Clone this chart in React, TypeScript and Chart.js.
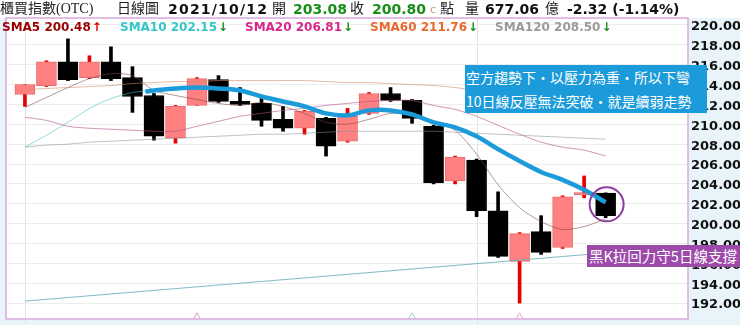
import React, { useEffect, useRef } from "react";
import { Chart, registerables } from "chart.js";
Chart.register(...registerables);

// ---------- data ----------
const dates = ["09/01","09/02","09/03","09/06","09/07","09/08","09/09","09/10","09/11","09/13","09/14","09/15","09/16","09/17","09/22","09/23","09/24","09/27","09/28","09/29","09/30","10/01","10/04","10/05","10/06","10/07","10/08","10/12"];
const opens  = [213.0,213.9,216.3,214.7,216.3,214.7,212.9,208.6,211.9,214.5,212.3,212.1,210.5,209.6,210.6,208.3,211.1,213.1,212.4,209.8,204.3,206.4,201.3,196.2,199.2,197.6,202.9,203.08];
const highs  = [214.0,216.4,218.6,216.9,217.8,215.8,213.1,211.9,214.7,214.9,213.7,212.7,211.8,211.4,210.7,211.6,213.2,213.7,212.5,209.9,206.8,206.5,203.2,199.1,200.8,202.8,204.8,203.1];
const lows   = [211.8,213.8,214.4,214.6,214.4,211.2,208.4,208.1,211.9,212.2,211.9,209.8,209.3,209.0,206.8,208.2,211.0,212.3,210.1,204.0,204.0,200.7,196.6,192.0,196.9,197.5,202.6,200.6];
const closes = [214.0,216.3,214.5,216.3,214.6,212.8,208.8,211.8,214.6,212.3,212.0,210.4,209.6,211.3,207.8,210.8,213.1,212.4,210.6,204.1,206.7,201.3,196.7,199.0,197.1,202.7,203.12,200.80];
const volume = 677.06;

const sma5   = [211.7,212.7,213.7,214.6,215.1,214.9,213.4,212.9,212.5,212.1,211.9,212.2,211.8,211.1,210.2,210.0,210.5,211.1,210.9,210.2,209.4,207.0,203.9,201.6,200.2,199.4,199.7,200.48];
const sma10  = [207.7,208.9,210.2,211.6,212.6,213.2,213.4,213.6,213.7,213.6,213.4,212.8,212.3,211.8,211.1,210.9,211.4,211.4,211.0,210.2,209.7,208.8,207.5,206.3,205.2,204.4,203.4,202.15];
const sma20  = [210.7,210.4,209.8,209.6,209.5,209.4,209.3,209.3,209.8,210.3,210.8,211.1,211.4,211.6,211.9,212.1,212.3,212.4,212.4,211.9,211.5,210.8,209.9,209.0,208.2,207.7,207.4,206.81];
const sma60  = [213.5,213.6,213.7,213.8,213.9,214.1,214.2,214.3,214.3,214.4,214.4,214.4,214.4,214.4,214.3,214.2,214.2,214.1,214.0,213.9,213.7,213.4,213.1,212.8,212.5,212.2,212.0,211.76];
const sma120 = [207.7,207.9,208.0,208.2,208.3,208.4,208.5,208.6,208.7,208.8,208.9,209.0,209.0,209.1,209.2,209.3,209.3,209.3,209.3,209.3,209.2,209.1,209.0,208.9,208.8,208.7,208.6,208.50];
const longLineIdx = [0, 27];
const longLineVals = [192.2, 197.05];
const highlightStart = { x: 5.6, y: 213.3 };
const highlightFrom = 6;
const markerIdx = [8, 18, 23];
const yTicks = [192,194,196,198,200,202,204,206,208,210,212,214,216,218,220];

// ---------- layout / style ----------
const X_MIN = -0.88, X_MAX = 30.83, Y_MIN = 190.4, Y_MAX = 220.7;
const UP_BODY = "#ff8080", UP_EDGE = "#e86a6a", UP_WICK = "#e60000";
const last = closes.length - 1;
const monthStarts = dates.map((d, i) => (i === 0 || d.slice(0, 2) !== dates[i - 1].slice(0, 2) ? i : -1)).filter((i) => i >= 0);
const isUp = (i: number) => closes[i] >= opens[i];
const pts = (arr: number[]) => arr.map((v, i) => ({ x: i, y: v }));

const framePlugin = {
  id: "frame",
  beforeDraw(chart: any) {
    const { ctx, chartArea: a, width, height } = chart;
    ctx.save();
    ctx.fillStyle = "#e8f4f9";
    ctx.fillRect(0, 0, width, height);
    ctx.fillStyle = "#ffffff";
    ctx.fillRect(0, 0, width, a.top);
    ctx.fillRect(a.left, a.top, a.right - a.left, a.bottom - a.top);
    ctx.restore();
  },
  beforeDatasetsDraw(chart: any) {
    const { ctx, chartArea: a, height } = chart;
    ctx.save();
    ctx.strokeStyle = "#dbe5ea";
    ctx.lineWidth = 1;
    monthStarts.forEach((i) => {
      const x = Math.round(chart.scales.x.getPixelForValue(i)) + 0.5;
      ctx.beginPath();
      ctx.moveTo(x, a.top);
      ctx.lineTo(x, height);
      ctx.stroke();
    });
    ctx.restore();
  },
  afterDraw(chart: any) {
    const { ctx, chartArea: a } = chart;
    ctx.save();
    ctx.strokeStyle = "#dba8de";
    ctx.lineWidth = 1.5;
    ctx.strokeRect(a.left, a.top, a.right - a.left, a.bottom - a.top);
    const cx = chart.scales.x.getPixelForValue(last);
    const cy = chart.scales.y.getPixelForValue((opens[last] + closes[last]) / 2);
    ctx.beginPath();
    ctx.arc(cx + 1, cy, 17, 0, Math.PI * 2);
    ctx.strokeStyle = "#8e3c9e";
    ctx.lineWidth = 2;
    ctx.stroke();
    ctx.restore();
  },
};

const thin = (label: string, data: any[], color: string) => ({
  type: "line" as const,
  label,
  data,
  borderColor: color,
  borderWidth: 1,
  pointRadius: 0,
  tension: 0.25,
  order: 0,
});

export default function App() {
  const ref = useRef<HTMLCanvasElement>(null);
  useEffect(() => {
    if (!ref.current) return;
    const chart = new Chart(ref.current, {
      type: "bar",
      data: {
        datasets: [
          thin("SMA120", pts(sma120), "rgba(140,140,140,0.55)"),
          thin("SMA60", pts(sma60), "rgba(205,140,100,0.6)"),
          thin("SMA20", pts(sma20), "rgba(180,80,140,0.6)"),
          thin("SMA10", pts(sma10), "rgba(70,195,190,0.6)"),
          thin("SMA5", pts(sma5), "rgba(120,70,60,0.55)"),
          thin("long", longLineIdx.map((x, k) => ({ x, y: longLineVals[k] })), "rgba(110,170,190,0.85)"),
          {
            type: "line",
            label: "10日線",
            data: [highlightStart, ...sma10.slice(highlightFrom).map((v, k) => ({ x: k + highlightFrom, y: v }))],
            borderColor: "#1b9bd9",
            borderWidth: 4.5,
            pointRadius: 0,
            tension: 0.35,
            order: -1,
          } as any,
          {
            type: "line",
            label: "marks",
            data: markerIdx.map((x) => ({ x, y: Y_MIN + 0.12 })),
            showLine: false,
            pointStyle: "triangle",
            pointRadius: 5,
            pointBorderWidth: 1,
            pointBackgroundColor: "#ffffff",
            pointBorderColor: ["#e3a0c0", "#9fd6c8", "#d6a8b8"],
            clip: 0,
            order: 0,
          } as any,
          {
            type: "bar",
            label: "body",
            data: opens.map((o, i) => ({ x: i, y: [o, closes[i]] })),
            backgroundColor: opens.map((_, i) => (isUp(i) ? UP_BODY : "#000000")),
            borderColor: opens.map((_, i) => (isUp(i) ? UP_EDGE : "#000000")),
            borderWidth: 1,
            borderSkipped: false,
            barThickness: 20,
            minBarLength: 2,
            grouped: false,
            order: 1,
          } as any,
          {
            type: "bar",
            label: "wick",
            data: lows.map((l, i) => ({ x: i, y: [l, highs[i]] })),
            backgroundColor: lows.map((_, i) => (isUp(i) ? UP_WICK : "#000000")),
            borderWidth: 0,
            barThickness: 3,
            grouped: false,
            order: 2,
          } as any,
        ],
      },
      options: {
        animation: false,
        responsive: false,
        devicePixelRatio: 1,
        layout: { padding: { left: 3, top: 18, right: 0, bottom: 4 } },
        plugins: { legend: { display: false }, tooltip: { enabled: false } },
        scales: {
          x: {
            type: "linear",
            display: false,
            min: X_MIN,
            max: X_MAX,
            offset: false,
          },
          y: {
            type: "linear",
            position: "right",
            min: Y_MIN,
            max: Y_MAX,
            afterBuildTicks: (s: any) => { s.ticks = yTicks.map((v) => ({ value: v })); },
            afterFit: (s: any) => { s.width = 52; s.paddingTop = 0; s.paddingBottom = 0; },
            ticks: {
              callback: (v: any) => Number(v).toFixed(2),
              font: { family: "DejaVu Sans", weight: "bold", size: 13 },
              color: "#111111",
              padding: 3,
              labelOffset: 2,
            },
            grid: { color: "#ededed", drawTicks: false },
            border: { display: false },
          },
        },
      } as any,
      plugins: [framePlugin],
    });
    return () => chart.destroy();
  }, []);

  const chg = closes[last] - closes[last - 1];
  const pct = (chg / closes[last - 1]) * 100;
  const sign = (n: number) => (n > 0 ? "+" : "") + n.toFixed(2);
  const num: React.CSSProperties = { fontFamily: "'DejaVu Sans', sans-serif", fontWeight: "bold", fontSize: 14 };
  const cjk: React.CSSProperties = { fontFamily: "'Liberation Serif', 'Noto Sans CJK TC', serif", fontSize: 14, color: "#222" };
  const at = (left: number, style: React.CSSProperties, text: string, extra: React.CSSProperties = {}) => (
    <span style={{ position: "absolute", left, top: 0, lineHeight: "18px", whiteSpace: "nowrap", ...style, ...extra }}>{text}</span>
  );
  const smaItems = [
    { name: "SMA5", arr: sma5, color: "#990000", left: 2 },
    { name: "SMA10", arr: sma10, color: "#33c6c8", left: 120 },
    { name: "SMA20", arr: sma20, color: "#d9268a", left: 245 },
    { name: "SMA60", arr: sma60, color: "#e8692e", left: 370 },
    { name: "SMA120", arr: sma120, color: "#9a9a9a", left: 495 },
  ];

  return (
    <div style={{ position: "fixed", left: 0, top: 0, width: 740, height: 325, overflow: "hidden" }}>
      <canvas ref={ref} width={740} height={325} style={{ position: "absolute", left: 0, top: 0 }} />
      {at(0, cjk, "櫃買指數(OTC)")}
      {at(117, cjk, "日線圖")}
      {at(168, num, "2021/10/12", { letterSpacing: 1.2, color: "#111" })}
      {at(272, cjk, "開")}
      {at(293, num, opens[last].toFixed(2), { color: "#178f17" })}
      {at(350, cjk, "收")}
      {at(372, num, closes[last].toFixed(2), { color: "#178f17" })}
      {at(430, { fontFamily: "'DejaVu Sans', sans-serif", fontSize: 11, color: "#c4a46c" }, "c", { top: 1 })}
      {at(440, cjk, "點")}
      {at(465, cjk, "量")}
      {at(485, num, volume.toFixed(2), { color: "#111" })}
      {at(545, cjk, "億")}
      {at(567, num, `${sign(chg)} (${sign(pct)}%)`, { color: "#111" })}
      {smaItems.map((s) => {
        const v = s.arr[last];
        const up = v >= s.arr[last - 1];
        return (
          <span key={s.name} style={{ position: "absolute", left: s.left, top: 19, lineHeight: "16px", whiteSpace: "nowrap", fontFamily: "'DejaVu Sans', sans-serif", fontWeight: "bold", fontSize: 12, color: s.color }}>
            {s.name} {v.toFixed(2)}
            <span style={{ color: up ? "#e00000" : "#1a8f1a", marginLeft: 1 }}>{up ? "↑" : "↓"}</span>
          </span>
        );
      })}
      <div style={{ position: "absolute", left: 465, top: 65, width: 242, height: 48, background: "#1b9bd9", color: "#fff", fontFamily: "'Noto Sans CJK TC', sans-serif", fontSize: 14, lineHeight: "24px", paddingLeft: 1, boxSizing: "border-box", whiteSpace: "nowrap", overflow: "hidden" }}>
        <div>空方趨勢下・以壓力為重・所以下彎</div>
        <div>10日線反壓無法突破・就是續弱走勢</div>
      </div>
      <div style={{ position: "absolute", left: 587, top: 245, width: 153, height: 22, background: "#9d4aaa", color: "#fff", fontFamily: "'Noto Sans CJK TC', sans-serif", fontSize: 14.5, lineHeight: "22px", paddingLeft: 2, boxSizing: "border-box", whiteSpace: "nowrap", overflow: "hidden" }}>
        黑K拉回力守5日線支撐
      </div>
    </div>
  );
}
